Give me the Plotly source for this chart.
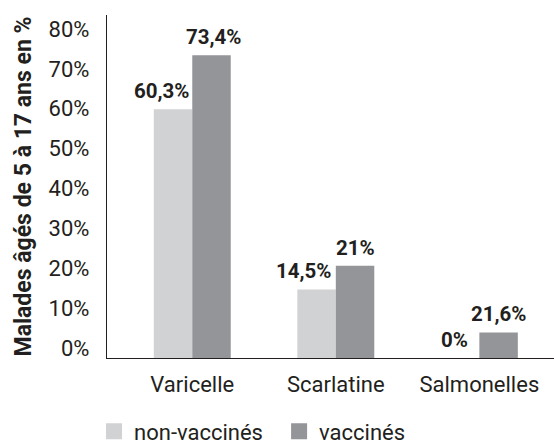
import plotly.graph_objects as go

categories = ["Varicelle", "Scarlatine", "Salmonelles"]
# bar heights as drawn (% scale)
non_vaccines = [62.4, 17.2, 0.0]
vaccines = [75.9, 23.1, 6.4]
# value labels printed above the bars
non_vaccines_labels = ["60,3%", "14,5%", "0%"]
vaccines_labels = ["73,4%", "21%", "21,6%"]
tick_values = [0, 10, 20, 30, 40, 50, 60, 70, 80]
tick_labels = ["0%", "10%", "20%", "30%", "40%", "50%", "60%", "70%", "80%"]

LIGHT = "#d1d2d4"
DARK = "#939598"
TXT = "#231f20"
FONT = "Roboto"

fig = go.Figure()
fig.add_trace(go.Bar(x=categories, y=non_vaccines, marker=dict(color=LIGHT, line=dict(width=0)),
                     showlegend=False, name="non-vaccinés"))
fig.add_trace(go.Bar(x=categories, y=vaccines, marker=dict(color=DARK, line=dict(width=0)),
                     showlegend=False, name="vaccinés"))
# legend entries (one legend box each)
fig.add_trace(go.Scatter(x=[None], y=[None], mode="markers", name="non-vaccinés", legend="legend",
                         marker=dict(symbol="square", size=16, color=LIGHT)))
fig.add_trace(go.Scatter(x=[None], y=[None], mode="markers", name="vaccinés", legend="legend2",
                         marker=dict(symbol="square", size=16, color=DARK)))

# label styling offsets (pixels)
nv_dx = [-31, -32, -25]
v_dx = [21, 20, 19]
for i, c in enumerate(categories):
    fig.add_annotation(x=c, y=non_vaccines[i], text=non_vaccines_labels[i], showarrow=False,
                       xref="x", yref="y", xanchor="center", yanchor="bottom",
                       xshift=nv_dx[i], yshift=4,
                       font=dict(family=FONT, size=20.5, color=TXT, weight="bold"))
    fig.add_annotation(x=c, y=vaccines[i], text=vaccines_labels[i], showarrow=False,
                       xref="x", yref="y", xanchor="center", yanchor="bottom",
                       xshift=v_dx[i], yshift=4,
                       font=dict(family=FONT, size=20.5, color=TXT, weight="bold"))

legend_style = dict(orientation="v", yref="paper", y=-0.214, yanchor="middle", xanchor="left",
                    font=dict(size=22, family=FONT, color=TXT), itemclick=False,
                    bgcolor="rgba(0,0,0,0)", borderwidth=0)

fig.update_layout(
    width=554, height=444,
    margin=dict(l=107, r=0, t=15, b=86, autoexpand=False),
    paper_bgcolor="white", plot_bgcolor="white",
    barmode="group", bargap=0.464, bargroupgap=0,
    font=dict(family=FONT, color=TXT, size=22),
    legend=dict(x=-0.029, **legend_style),
    legend2=dict(x=0.385, **legend_style),
    xaxis=dict(range=[-0.594, 2.52], showline=True, linecolor=TXT, linewidth=1.3,
               ticks="", showgrid=False, zeroline=False, ticklabelstandoff=6,
               tickfont=dict(size=22, family=FONT, color=TXT)),
    yaxis=dict(range=[0, 86], showline=True, linecolor=TXT, linewidth=1.3,
               ticks="", showgrid=False, zeroline=False,
               tickvals=tick_values, ticktext=tick_labels,
               ticklabelposition="outside", ticklabelshift=-10, ticklabelstandoff=12,
               tickfont=dict(size=22, family=FONT, color=TXT),
               title=dict(text="Malades âgés de 5 à 17 ans en %", standoff=10,
                          font=dict(size=23, family=FONT, color=TXT, weight="bold"))),
)

fig.write_html("out.html", config={"displayModeBar": False},
               post_script="document.body.style.margin='0';document.body.style.padding='0';")
